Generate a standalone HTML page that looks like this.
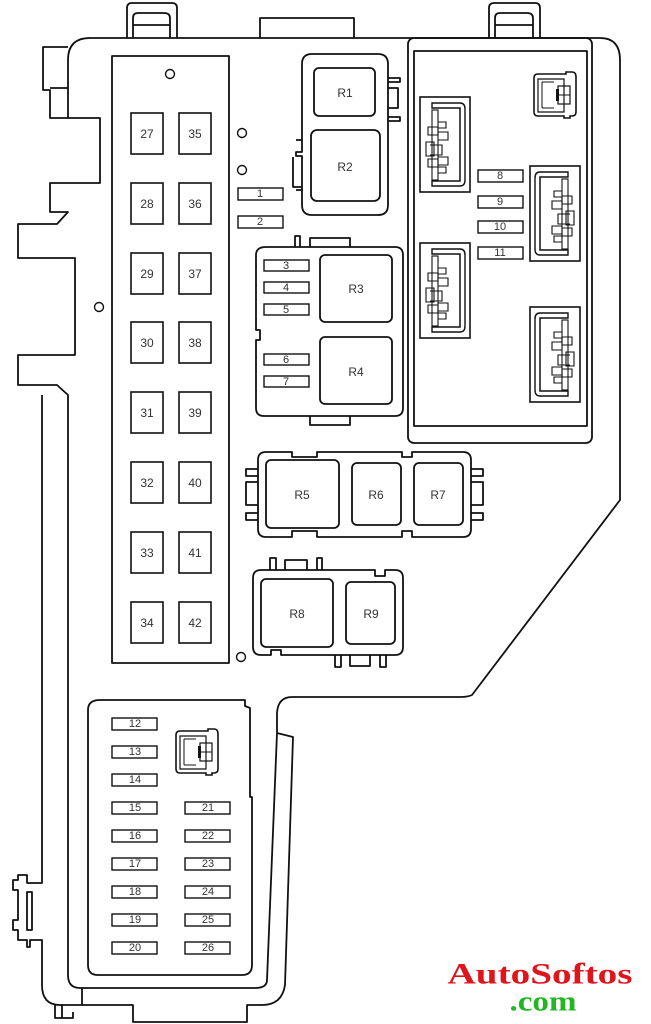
<!DOCTYPE html>
<html><head><meta charset="utf-8"><style>
html,body{margin:0;padding:0;background:#fff;width:651px;height:1024px;overflow:hidden}
svg{display:block}
text{font-family:"Liberation Sans",Arial,sans-serif;font-size:12px;fill:#333;text-anchor:middle;dominant-baseline:central}
.f text{font-size:11px}
</style></head><body>
<svg width="651" height="1024" viewBox="0 0 651 1024" xmlns="http://www.w3.org/2000/svg">
<defs>
<g id="conn">
  <rect x="0" y="0" width="50" height="95" fill="none" stroke="#111" stroke-width="1.6"/>
  <path d="M12,6 H40 Q45,6 45,12 V83 Q45,89 40,89 H12 V84 H40 V11 H12 Z" fill="none" stroke="#111" stroke-width="1.4"/>
  <line x1="40" y1="11" x2="40" y2="84" stroke="#111" stroke-width="1.2"/>
  <rect x="12" y="13" width="6" height="70" fill="none" stroke="#111" stroke-width="1.1"/>
  <path d="M18,25 h8 v6 h-8 M8,30 h10 v8 h-10z M18,35 h10 v8 h-10 M6,45 h8 v14 h-8z M10,48 h12 v10 h-12 M18,60 h10 v8 h-10 M8,62 h10 v8 h-10z M18,70 h8 v6 h-8" fill="none" stroke="#111" stroke-width="1.1"/>
</g>
<g id="plug">
  <path d="M4,4 Q4,0 8,0 H36 V-2 H42 Q46,-2 46,3 V38 Q46,42 42,42 H40 V44 H34 V42 H8 Q4,42 4,38 Z" fill="none" stroke="#111" stroke-width="1.6"/>
  <path d="M8,5 H34 V38 H8 Z" fill="none" stroke="#111" stroke-width="1.2"/>
  <path d="M12,8 V34 M12,8 H24 M12,34 H24" fill="none" stroke="#111" stroke-width="1"/>
  <rect x="28" y="12" width="12" height="18" fill="none" stroke="#111" stroke-width="1.2"/>
  <path d="M28,21 H40 M34,12 V30" stroke="#111" stroke-width="1"/>
  <rect x="26" y="15" width="3" height="12" fill="#111"/>
</g>
</defs>
<g fill="none" stroke="#111" stroke-width="1.8" stroke-linejoin="round">
<path d="M127,38 V8 Q127,3 132,3 H172 Q177,3 177,8 V38"/>
<path d="M133,38 V18 Q133,13 138,13 H164 Q170,13 170,18 V38 M133,25 H170"/>
<path d="M489,38 V8 Q489,3 494,3 H535 Q540,3 540,8 V38"/>
<path d="M495,38 V18 Q495,13 500,13 H527 Q533,13 533,18 V38 M495,25 H533"/>
<path d="M260,38 V18 H354 V38"/>
<path d="M68,118 V60 Q68,38 90,38 H600 Q620,38 620,60 V500 L472,695 Q468,697 460,697 H292 Q278,697 277,713 L277,733 L267,980 Q267,988 255,988 H80"/>
<path d="M68,47 H43 V90 H50 V118 H100 V183 H50 V212 H68 L57,224 H18 V258 H75 V355 H18 V385 H57 L68,395 V975 Q68,988 80,988"/>
<path d="M68,88 H50"/>
<path d="M42,395 V883 H27 V875 H18 V880 H13 V890 H18 V920 H13 V930 H18 V940 H27 V947 H30 V940 H42 V985 Q42,1005 60,1005 H82 V988"/>
<path d="M27,892 V930 H32 V892 Z"/>
<path d="M55,1004 V1018 H73 V1012 M62,1004 V1018"/>
<path d="M277,733 L293,737 L285,985 Q282,1005 262,1005 H247 V1022 H133 V1005 H82"/>
<rect x="112" y="56" width="117" height="607"/>
<rect x="408" y="38" width="184" height="405" rx="6"/>
<rect x="414" y="51" width="173" height="375"/>
<path d="M100,700 H245 V706 L250,708 V797 H252 V965 Q252,975 242,975 H98 Q88,975 88,965 V710 Q88,700 100,700 Z"/>
<path d="M312,54 H378 Q388,54 388,64 V205 Q388,215 378,215 H312 Q302,215 302,205 V156 H296 V152 H302 V64 Q302,54 312,54 Z"/>
<rect x="314" y="68" width="61" height="48" rx="5"/>
<rect x="311" y="130" width="69" height="71" rx="6"/>
<path d="M388,78 H400 V82 H388 M388,88 H398 V108 H388 M388,117 H400 V121 H388"/>
<path d="M296,140 H302 M296,190 H302 M293,157 V187 H302"/>
<path d="M266,247 H395 Q403,247 403,255 V408 Q403,416 395,416 H264 Q256,416 256,408 V340 H260 V330 H256 V255 Q256,247 266,247 Z"/>
<path d="M295,247 V236 H300 V247 M310,247 V238 H350 V247 M310,416 V425 H350 V416"/>
<rect x="320" y="255" width="72" height="67" rx="5"/>
<rect x="320" y="337" width="72" height="67" rx="5"/>
<path d="M266,452 H292 V457 H317 V452 H402 V457 H412 V452 H463 Q471,452 471,460 V529 Q471,537 463,537 H412 V531 H402 V537 H317 V531 H292 V537 H266 Q258,537 258,529 V460 Q258,452 266,452 Z"/>
<rect x="266" y="460" width="73" height="68" rx="5"/>
<rect x="352" y="463" width="49" height="62" rx="5"/>
<rect x="414" y="463" width="49" height="62" rx="5"/>
<path d="M258,469 H246 V476 H258 M258,482 H246 V505 H258 M258,513 H246 V520 H258"/>
<path d="M471,469 H483 V476 H471 M471,482 H483 V505 H471 M471,513 H483 V520 H471"/>
<path d="M261,570 H375 V576 H385 V570 H395 Q403,570 403,578 V647 Q403,655 395,655 H281 V650 H271 V655 H261 Q253,655 253,647 V578 Q253,570 261,570 Z"/>
<path d="M270,570 V558 H276 V570 M285,570 V560 H307 V570 M317,570 V558 H322 V570"/>
<path d="M335,655 V667 H341 V655 M350,655 V666 H370 V655 M380,655 V667 H386 V655"/>
<rect x="261" y="579" width="72" height="68" rx="5"/>
<rect x="346" y="582" width="49" height="62" rx="5"/>
</g>
<g fill="none" stroke="#111" stroke-width="1.4">
<circle cx="170" cy="74" r="4.5"/><circle cx="242" cy="133" r="4.5"/><circle cx="242" cy="170" r="4.5"/>
<circle cx="99" cy="307" r="4.5"/><circle cx="241" cy="657" r="4.5"/>
</g>
<g fill="none" stroke="#111" stroke-width="1.6">
<rect x="131" y="113" width="32" height="41"/><rect x="179" y="113" width="32" height="41"/>
<rect x="131" y="183" width="32" height="41"/><rect x="179" y="183" width="32" height="41"/>
<rect x="131" y="253" width="32" height="41"/><rect x="179" y="253" width="32" height="41"/>
<rect x="131" y="322" width="32" height="41"/><rect x="179" y="322" width="32" height="41"/>
<rect x="131" y="392" width="32" height="41"/><rect x="179" y="392" width="32" height="41"/>
<rect x="131" y="462" width="32" height="41"/><rect x="179" y="462" width="32" height="41"/>
<rect x="131" y="532" width="32" height="41"/><rect x="179" y="532" width="32" height="41"/>
<rect x="131" y="602" width="32" height="41"/><rect x="179" y="602" width="32" height="41"/>
</g>
<g>
<text x="147" y="134">27</text><text x="195" y="134">35</text>
<text x="147" y="204">28</text><text x="195" y="204">36</text>
<text x="147" y="274">29</text><text x="195" y="274">37</text>
<text x="147" y="343">30</text><text x="195" y="343">38</text>
<text x="147" y="413">31</text><text x="195" y="413">39</text>
<text x="147" y="483">32</text><text x="195" y="483">40</text>
<text x="147" y="553">33</text><text x="195" y="553">41</text>
<text x="147" y="623">34</text><text x="195" y="623">42</text>
</g>
<g fill="none" stroke="#111" stroke-width="1.4">
<rect x="238" y="188" width="45" height="12"/><rect x="238" y="216" width="45" height="12"/>
<rect x="264" y="260" width="45" height="11"/><rect x="264" y="282" width="45" height="11"/><rect x="264" y="304" width="45" height="11"/>
<rect x="264" y="354" width="45" height="11"/><rect x="264" y="376" width="45" height="11"/>
<rect x="478" y="170" width="45" height="12"/><rect x="478" y="196" width="45" height="12"/><rect x="478" y="221" width="45" height="12"/><rect x="478" y="247" width="45" height="12"/>
<rect x="112" y="718" width="45" height="12"/><rect x="112" y="746" width="45" height="12"/><rect x="112" y="774" width="45" height="12"/>
<rect x="112" y="802" width="45" height="12"/><rect x="112" y="830" width="45" height="12"/><rect x="112" y="858" width="45" height="12"/>
<rect x="112" y="886" width="45" height="12"/><rect x="112" y="914" width="45" height="12"/><rect x="112" y="942" width="45" height="12"/>
<rect x="185" y="802" width="45" height="12"/><rect x="185" y="830" width="45" height="12"/><rect x="185" y="858" width="45" height="12"/>
<rect x="185" y="886" width="45" height="12"/><rect x="185" y="914" width="45" height="12"/><rect x="185" y="942" width="45" height="12"/>
</g>
<g class="f">
<text x="260" y="194">1</text><text x="260" y="222">2</text>
<text x="286" y="266">3</text><text x="286" y="288">4</text><text x="286" y="310">5</text>
<text x="286" y="360">6</text><text x="286" y="382">7</text>
<text x="500" y="176">8</text><text x="500" y="202">9</text><text x="500" y="227">10</text><text x="500" y="253">11</text>
<text x="135" y="724">12</text><text x="135" y="752">13</text><text x="135" y="780">14</text>
<text x="135" y="808">15</text><text x="135" y="836">16</text><text x="135" y="864">17</text>
<text x="135" y="892">18</text><text x="135" y="920">19</text><text x="135" y="948">20</text>
<text x="208" y="808">21</text><text x="208" y="836">22</text><text x="208" y="864">23</text>
<text x="208" y="892">24</text><text x="208" y="920">25</text><text x="208" y="948">26</text>
</g>
<g>
<text x="345" y="93">R1</text><text x="345" y="167">R2</text>
<text x="356" y="289">R3</text><text x="356" y="372">R4</text>
<text x="302" y="495">R5</text><text x="376" y="495">R6</text><text x="438" y="495">R7</text>
<text x="297" y="614">R8</text><text x="371" y="614">R9</text>
</g>
<use href="#conn" x="420" y="97"/>
<use href="#conn" x="420" y="243"/>
<use href="#conn" transform="translate(580,166) scale(-1,1)"/>
<use href="#conn" transform="translate(580,307) scale(-1,1)"/>
<use href="#plug" x="530" y="74"/>
<use href="#plug" x="172" y="731"/>
<text x="540" y="974" textLength="185" lengthAdjust="spacingAndGlyphs" style="font-family:'Liberation Serif',serif;font-weight:bold;font-size:30px;fill:#e0141b">AutoSoftos</text>
<text x="543" y="1002" textLength="67" lengthAdjust="spacingAndGlyphs" style="font-family:'Liberation Serif',serif;font-weight:bold;font-size:28px;fill:#22b524">.com</text>
</svg>
</body></html>
